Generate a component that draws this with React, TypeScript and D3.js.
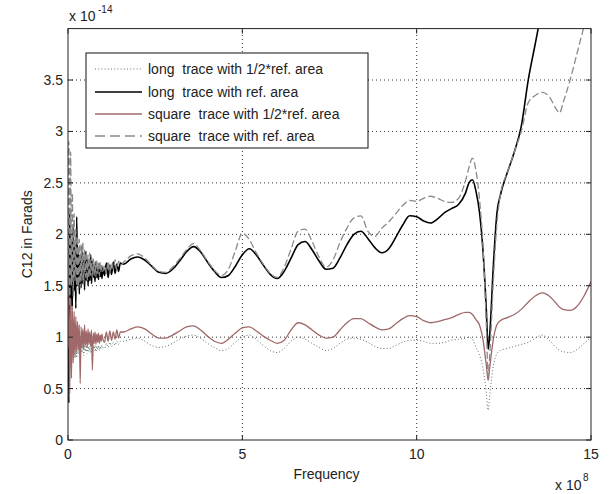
import React from 'react';
import * as d3 from 'd3';

// Frequency sample points (units of 1e8 Hz)
const freq = [
  0, 0.025, 0.05, 0.075, 0.1, 0.125, 0.15, 0.175, 0.2, 0.225, 0.25, 0.275, 0.3, 0.325, 0.35, 0.375, 0.4, 0.425, 0.45, 0.475,
  0.5, 0.525, 0.55, 0.575, 0.6, 0.625, 0.65, 0.675, 0.7, 0.725, 0.75, 0.775, 0.8, 0.825, 0.85, 0.875, 0.9, 0.925, 0.95, 0.975, 1.0,
  1.05, 1.1, 1.15, 1.2, 1.25, 1.3, 1.35, 1.4, 1.45, 1.5,
  1.6, 1.8, 2.0, 2.2, 2.4, 2.6, 2.8, 3.0, 3.2, 3.4, 3.6, 3.8, 4.0, 4.2, 4.4, 4.6, 4.8, 5.0,
  5.2, 5.4, 5.6, 5.8, 6.0, 6.2, 6.4, 6.6, 6.8, 7.0, 7.2, 7.4, 7.6, 7.8, 8.0, 8.2, 8.4, 8.6, 8.8, 9.0,
  9.2, 9.4, 9.6, 9.8, 10.0, 10.2, 10.4, 10.6, 10.8, 11.0, 11.2, 11.4,
  11.5, 11.6, 11.7, 11.8, 11.9, 12.0, 12.05, 12.1, 12.2, 12.3, 12.4, 12.6, 12.8, 13.0,
  13.2, 13.4, 13.6, 13.8, 14.0, 14.1, 14.2, 14.4, 14.6, 14.8, 15.0,
];

// C12 values (units of 1e-14 F)
const longHalf = [
  0.80, 1.20, 0.62, 1.05, 0.70, 1.00, 0.78, 0.98, 0.82, 0.96, 0.80, 0.95, 0.84, 0.94, 0.75, 0.93, 0.85, 0.92, 0.82, 0.94,
  0.86, 0.92, 0.84, 0.93, 0.86, 0.91, 0.85, 0.92, 0.78, 0.91, 0.87, 0.92, 0.86, 0.91, 0.88, 0.92, 0.87, 0.91, 0.89, 0.92, 0.90,
  0.89, 0.94, 0.90, 0.95, 0.91, 0.95, 0.92, 0.96, 0.93, 0.96,
  0.96, 0.98, 0.99, 0.96, 0.92, 0.90, 0.91, 0.94, 0.98, 1.01, 1.02, 0.99, 0.94, 0.90, 0.87, 0.89, 0.95, 1.00,
  1.02, 0.98, 0.92, 0.87, 0.85, 0.89, 0.96, 1.00, 0.98, 0.94, 0.90, 0.87, 0.89, 0.94, 0.98, 0.99, 0.98, 0.95, 0.91, 0.89,
  0.89, 0.92, 0.95, 0.97, 0.97, 0.96, 0.94, 0.94, 0.95, 0.97, 0.98, 0.99,
  1.00, 0.98, 0.90, 0.83, 0.70, 0.45, 0.29, 0.45, 0.72, 0.84, 0.87, 0.89, 0.91, 0.93,
  0.95, 0.99, 1.02, 0.97, 0.90, 0.87, 0.86, 0.85, 0.88, 0.94, 1.00,
];

const longRef = [
  1.40, 0.36, 2.25, 1.20, 1.95, 1.30, 2.10, 1.45, 1.90, 1.28, 2.17, 1.50, 1.85, 1.42, 1.80, 1.48, 1.88, 1.52, 1.78, 1.46,
  1.83, 1.55, 1.76, 1.50, 1.72, 1.55, 1.80, 1.52, 1.74, 1.58, 1.70, 1.54, 1.73, 1.58, 1.68, 1.56, 1.71, 1.59, 1.67, 1.57, 1.68,
  1.60, 1.72, 1.58, 1.70, 1.61, 1.73, 1.62, 1.71, 1.64, 1.72,
  1.71, 1.76, 1.78, 1.75, 1.69, 1.63, 1.62, 1.66, 1.74, 1.83, 1.88, 1.83, 1.73, 1.64, 1.58, 1.60, 1.69, 1.80,
  1.86, 1.80, 1.70, 1.61, 1.57, 1.64, 1.77, 1.90, 1.93, 1.85, 1.74, 1.66, 1.67, 1.77, 1.90, 2.00, 2.03, 1.96, 1.87, 1.82,
  1.86, 1.97, 2.09, 2.18, 2.17, 2.13, 2.11, 2.15, 2.21, 2.25, 2.29, 2.40,
  2.50, 2.53, 2.42, 2.22, 1.85, 1.25, 0.88, 1.05, 1.70, 2.20, 2.38, 2.60, 2.80, 3.05,
  3.50, 3.85, 4.20, 4.50, 4.80, 4.95, 5.10, 5.40, 5.70, 6.00, 6.30,
];

const squareHalf = [
  0.90, 1.42, 0.45, 1.38, 0.60, 1.30, 0.75, 1.25, 0.80, 1.20, 0.85, 1.15, 0.88, 1.12, 0.55, 1.10, 0.90, 1.08, 0.88, 1.12,
  0.92, 1.06, 0.90, 1.08, 0.93, 1.05, 0.91, 1.07, 0.68, 1.04, 0.94, 1.05, 0.93, 1.03, 0.95, 1.04, 0.94, 1.02, 0.96, 1.03, 0.98,
  0.95, 1.05, 0.96, 1.06, 0.97, 1.05, 0.98, 1.07, 0.99, 1.05,
  1.05, 1.08, 1.10, 1.08, 1.03, 0.99, 0.99, 1.02, 1.06, 1.10, 1.11, 1.07, 1.01, 0.96, 0.94, 0.98, 1.04, 1.09,
  1.10, 1.06, 1.01, 0.97, 0.94, 0.97, 1.07, 1.14, 1.12, 1.07, 1.02, 0.99, 1.00, 1.07, 1.14, 1.18, 1.18, 1.14, 1.10, 1.07,
  1.08, 1.13, 1.18, 1.21, 1.20, 1.16, 1.14, 1.15, 1.17, 1.19, 1.22, 1.24,
  1.24, 1.22, 1.17, 1.12, 0.98, 0.72, 0.58, 0.72, 0.98, 1.12, 1.16, 1.19, 1.22, 1.27,
  1.34, 1.40, 1.43, 1.40, 1.33, 1.29, 1.27, 1.26, 1.30, 1.40, 1.54,
];

const squareRef = [
  1.60, 2.90, 1.30, 2.80, 1.50, 2.40, 1.40, 2.20, 1.55, 2.05, 1.45, 1.98, 1.50, 1.95, 1.48, 1.90, 1.55, 1.92, 1.52, 1.85,
  1.58, 1.84, 1.55, 1.80, 1.58, 1.82, 1.60, 1.78, 1.57, 1.76, 1.60, 1.74, 1.59, 1.75, 1.62, 1.72, 1.60, 1.73, 1.63, 1.70, 1.64,
  1.70, 1.62, 1.74, 1.63, 1.72, 1.66, 1.75, 1.65, 1.74, 1.70,
  1.73, 1.79, 1.81, 1.77, 1.70, 1.64, 1.63, 1.68, 1.76, 1.85, 1.91, 1.84, 1.74, 1.65, 1.60, 1.66, 1.84, 2.01,
  1.95, 1.82, 1.71, 1.62, 1.58, 1.68, 1.86, 2.03, 2.05, 1.93, 1.78, 1.68, 1.75, 1.92, 2.06, 2.16, 2.18, 2.03, 1.98, 2.06,
  2.12, 2.20, 2.28, 2.33, 2.32, 2.35, 2.37, 2.35, 2.32, 2.31, 2.35, 2.52,
  2.65, 2.74, 2.62, 2.35, 1.90, 1.10, 0.62, 0.85, 1.55, 2.10, 2.38, 2.60, 2.80, 3.00,
  3.28, 3.35, 3.38, 3.34, 3.22, 3.18, 3.28, 3.50, 3.76, 4.02, 4.25,
];

const xTicks = [0, 5, 10, 15];
const yTicks = [0, 0.5, 1, 1.5, 2, 2.5, 3, 3.5];
const yTickLabels = ['0', '0.5', '1', '1.5', '2', '2.5', '3', '3.5'];
const legendLabels = [
  'long  trace with 1/2*ref. area',
  'long  trace with ref. area',
  'square  trace with 1/2*ref. area',
  'square  trace with ref. area',
];

const FONT = '"Liberation Sans", Arial, Helvetica, sans-serif';

export default function App() {
  const W = 613;
  const H = 494;
  const left = 68, right = 591, top = 28.6, bottom = 440;
  const x = d3.scaleLinear().domain([0, 15]).range([left, right]);
  const y = d3.scaleLinear().domain([0, 4]).range([bottom, top]);

  const mk = (vals: number[]) =>
    d3
      .line<number>()
      .x((_, i) => x(freq[i]))
      .y((d) => y(d))
      .curve(d3.curveMonotoneX)(vals) || '';

  const series = [
    { vals: longHalf, stroke: '#55756b', width: 1, dash: '1,2.2' },
    { vals: longRef, stroke: '#000000', width: 1.6, dash: undefined },
    { vals: squareHalf, stroke: '#a06868', width: 1.3, dash: undefined },
    { vals: squareRef, stroke: '#8a8a8a', width: 1.3, dash: '7,3' },
  ];

  const legendX = 86, legendY = 53, legendW = 282, legendH = 95;
  const rowY = [69, 92, 114, 136];

  return (
    <svg
      width={W}
      height={H}
      style={{ position: 'absolute', left: 0, top: 0, background: '#fff' }}
      fontFamily={FONT}
    >
      <defs>
        <clipPath id="plotClip">
          <rect x={left} y={top} width={right - left} height={bottom - top} />
        </clipPath>
      </defs>
      <rect x={0} y={0} width={W} height={H} fill="#fff" />

      {/* grid */}
      <g stroke="#333" strokeWidth={1} strokeDasharray="1,3">
        {xTicks.filter((t) => t > 0 && t < 15).map((t) => (
          <line key={'gx' + t} x1={x(t)} x2={x(t)} y1={bottom} y2={top} />
        ))}
        {yTicks.filter((t) => t > 0).map((t) => (
          <line key={'gy' + t} x1={left} x2={right} y1={y(t)} y2={y(t)} />
        ))}
      </g>

      {/* data */}
      <g clipPath="url(#plotClip)" fill="none" strokeLinejoin="round">
        {series.map((s, i) => (
          <path key={i} d={mk(s.vals)} stroke={s.stroke} strokeWidth={s.width} strokeDasharray={s.dash} />
        ))}
      </g>

      {/* axes box and ticks */}
      <rect x={left} y={top} width={right - left} height={bottom - top} fill="none" stroke="#222" strokeWidth={1} />
      <g stroke="#222" strokeWidth={1}>
        {xTicks.map((t) => (
          <g key={'tx' + t}>
            <line x1={x(t)} x2={x(t)} y1={bottom} y2={bottom - 5} />
            <line x1={x(t)} x2={x(t)} y1={top} y2={top + 5} />
          </g>
        ))}
        {yTicks.map((t) => (
          <g key={'ty' + t}>
            <line x1={left} x2={left + 5} y1={y(t)} y2={y(t)} />
            <line x1={right} x2={right - 5} y1={y(t)} y2={y(t)} />
          </g>
        ))}
      </g>

      {/* tick labels */}
      <g fontSize={14} fill="#222">
        {xTicks.map((t) => (
          <text key={'lx' + t} x={x(t)} y={bottom + 19} textAnchor="middle">
            {t}
          </text>
        ))}
        {yTicks.map((t, i) => (
          <text key={'ly' + t} x={left - 5} y={y(t) + 5} textAnchor="end">
            {yTickLabels[i]}
          </text>
        ))}
      </g>

      {/* exponents */}
      <text x={69} y={21} fontSize={14} fill="#222">x 10</text>
      <text x={98} y={13} fontSize={10} fill="#222">-14</text>
      <text x={555} y={490} fontSize={14} fill="#222">x 10</text>
      <text x={583} y={481} fontSize={10} fill="#222">8</text>

      {/* axis labels */}
      <text x={(left + right) / 2 - 3} y={479} fontSize={14} textAnchor="middle" fill="#222">Frequency</text>
      <text
        transform={`translate(32, ${(top + bottom) / 2}) rotate(-90)`}
        fontSize={14}
        textAnchor="middle"
        fill="#222"
      >
        C12 in Farads
      </text>

      {/* legend */}
      <rect x={legendX} y={legendY} width={legendW} height={legendH} fill="#fff" stroke="#111" strokeWidth={1} />
      {series.map((s, i) => (
        <g key={'leg' + i}>
          <line
            x1={95}
            x2={142}
            y1={rowY[i]}
            y2={rowY[i]}
            stroke={s.stroke}
            strokeWidth={s.width}
            strokeDasharray={s.dash === '7,3' ? '10,5' : s.dash}
          />
          <text x={148} y={rowY[i] + 5} fontSize={14} fill="#222" style={{ whiteSpace: 'pre' }}>
            {legendLabels[i]}
          </text>
        </g>
      ))}
    </svg>
  );
}
